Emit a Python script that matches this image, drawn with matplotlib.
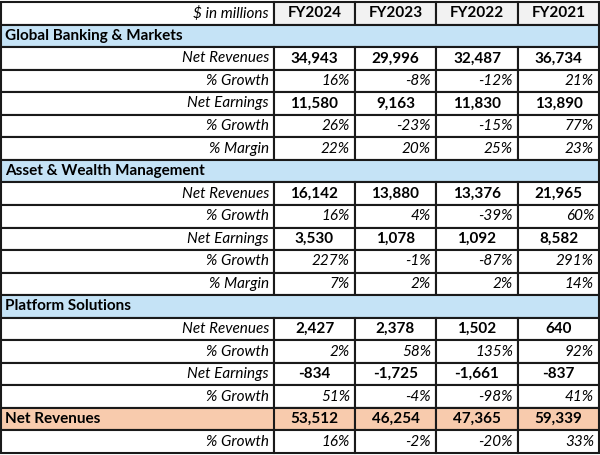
import matplotlib.pyplot as plt
from matplotlib.patches import Rectangle

plt.rcParams['font.family'] = ['Lato', 'DejaVu Sans']

years = ["FY2024", "FY2023", "FY2022", "FY2021"]

gbm_rev = ["34,943", "29,996", "32,487", "36,734"]
gbm_rev_g = ["16%", "-8%", "-12%", "21%"]
gbm_earn = ["11,580", "9,163", "11,830", "13,890"]
gbm_earn_g = ["26%", "-23%", "-15%", "77%"]
gbm_margin = ["22%", "20%", "25%", "23%"]

awm_rev = ["16,142", "13,880", "13,376", "21,965"]
awm_rev_g = ["16%", "4%", "-39%", "60%"]
awm_earn = ["3,530", "1,078", "1,092", "8,582"]
awm_earn_g = ["227%", "-1%", "-87%", "291%"]
awm_margin = ["7%", "2%", "2%", "14%"]

ps_rev = ["2,427", "2,378", "1,502", "640"]
ps_rev_g = ["2%", "58%", "135%", "92%"]
ps_earn = ["-834", "-1,725", "-1,661", "-837"]
ps_earn_g = ["51%", "-4%", "-98%", "41%"]

tot_rev = ["53,512", "46,254", "47,365", "59,339"]
tot_rev_g = ["16%", "-2%", "-20%", "33%"]

# (kind, label, values)
rows = [
    ("head", "$ in millions", years),
    ("section", "Global Banking & Markets", None),
    ("num", "Net Revenues", gbm_rev),
    ("pct", "% Growth", gbm_rev_g),
    ("num", "Net Earnings", gbm_earn),
    ("pct", "% Growth", gbm_earn_g),
    ("pct", "% Margin", gbm_margin),
    ("section", "Asset & Wealth Management", None),
    ("num", "Net Revenues", awm_rev),
    ("pct", "% Growth", awm_rev_g),
    ("num", "Net Earnings", awm_earn),
    ("pct", "% Growth", awm_earn_g),
    ("pct", "% Margin", awm_margin),
    ("section", "Platform Solutions", None),
    ("num", "Net Revenues", ps_rev),
    ("pct", "% Growth", ps_rev_g),
    ("num", "Net Earnings", ps_earn),
    ("pct", "% Growth", ps_earn_g),
    ("total", "Net Revenues", tot_rev),
    ("pct", "% Growth", tot_rev_g),
]

col_x = [1, 274, 355, 436, 518, 599]
top, bottom = 2, 453
rh = (bottom - top) / len(rows)

grey = "#f2f2f2"
blue = "#c5e3f6"
salmon = "#f8cbad"
line = "#1a1a1a"
lw = 1.5

fig = plt.figure(figsize=(6, 4.55), dpi=100)
ax = fig.add_axes([0, 0, 1, 1])
ax.set_xlim(0, 600)
ax.set_ylim(455, 0)
ax.axis("off")

fs = 11
for i, (kind, label, vals) in enumerate(rows):
    y0 = top + i * rh
    yc = y0 + rh / 2
    if kind in ("section", "total"):
        color = blue if kind == "section" else salmon
        ax.add_patch(Rectangle((col_x[0], y0), col_x[-1] - col_x[0], rh,
                               facecolor=color, edgecolor=line, lw=lw))
    if kind == "head":
        ax.add_patch(Rectangle((col_x[0], y0), col_x[1] - col_x[0], rh,
                               facecolor="white", edgecolor=line, lw=lw))
        for j in range(4):
            ax.add_patch(Rectangle((col_x[j + 1], y0), col_x[j + 2] - col_x[j + 1], rh,
                                   facecolor=grey, edgecolor=line, lw=lw))
    elif kind != "section":
        fc = salmon if kind == "total" else "white"
        for j in range(5):
            if kind == "total" and j == 0:
                continue
            ax.add_patch(Rectangle((col_x[j], y0), col_x[j + 1] - col_x[j], rh,
                                   facecolor=fc, edgecolor=line, lw=lw))

    if kind in ("section", "total"):
        ax.text(col_x[0] + 4, yc, label, ha="left", va="center",
                fontsize=fs, fontweight="bold")
    else:
        ax.text(col_x[1] - 5, yc, label, ha="right", va="center",
                fontsize=fs, style="italic")

    if vals is None:
        continue
    for j, v in enumerate(vals):
        if kind == "pct":
            ax.text(col_x[j + 2] - 5, yc, v, ha="right", va="center",
                    fontsize=fs, style="italic")
        else:
            ax.text((col_x[j + 1] + col_x[j + 2]) / 2, yc, v, ha="center",
                    va="center", fontsize=fs, fontweight="bold")

fig.savefig("out.png", dpi=100)
